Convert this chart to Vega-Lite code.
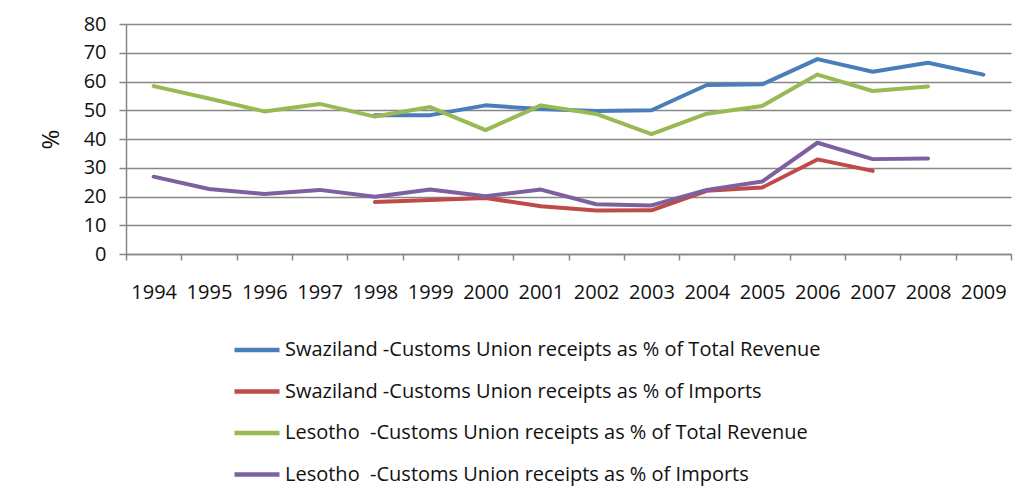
{
  "$schema": "https://vega.github.io/schema/vega-lite/v6.json",
  "width": 885,
  "height": 230,
  "autosize": {"type": "none"},
  "padding": {"left": 126, "top": 24, "right": 17, "bottom": 237},
  "background": "white",
  "config": {
    "font": "Open Sans",
    "view": {"stroke": null},
    "axis": {"labelColor": "#111111", "labelFontSize": 20, "domainColor": "#868686", "tickColor": "#868686", "gridColor": "#868686", "domainWidth": 1.5, "tickWidth": 1.5, "gridWidth": 1.5}
  },
  "data": {
    "values": [
      {"year": "1998", "series": "Swaziland -Customs Union receipts as % of Total Revenue", "value": 48.3},
      {"year": "1999", "series": "Swaziland -Customs Union receipts as % of Total Revenue", "value": 48.3},
      {"year": "2000", "series": "Swaziland -Customs Union receipts as % of Total Revenue", "value": 51.7},
      {"year": "2001", "series": "Swaziland -Customs Union receipts as % of Total Revenue", "value": 50.4},
      {"year": "2002", "series": "Swaziland -Customs Union receipts as % of Total Revenue", "value": 49.7},
      {"year": "2003", "series": "Swaziland -Customs Union receipts as % of Total Revenue", "value": 50.0},
      {"year": "2004", "series": "Swaziland -Customs Union receipts as % of Total Revenue", "value": 58.8},
      {"year": "2005", "series": "Swaziland -Customs Union receipts as % of Total Revenue", "value": 59.0},
      {"year": "2006", "series": "Swaziland -Customs Union receipts as % of Total Revenue", "value": 67.8},
      {"year": "2007", "series": "Swaziland -Customs Union receipts as % of Total Revenue", "value": 63.4},
      {"year": "2008", "series": "Swaziland -Customs Union receipts as % of Total Revenue", "value": 66.5},
      {"year": "2009", "series": "Swaziland -Customs Union receipts as % of Total Revenue", "value": 62.4},

      {"year": "1998", "series": "Swaziland -Customs Union receipts as % of Imports", "value": 18.1},
      {"year": "1999", "series": "Swaziland -Customs Union receipts as % of Imports", "value": 18.8},
      {"year": "2000", "series": "Swaziland -Customs Union receipts as % of Imports", "value": 19.5},
      {"year": "2001", "series": "Swaziland -Customs Union receipts as % of Imports", "value": 16.6},
      {"year": "2002", "series": "Swaziland -Customs Union receipts as % of Imports", "value": 15.1},
      {"year": "2003", "series": "Swaziland -Customs Union receipts as % of Imports", "value": 15.2},
      {"year": "2004", "series": "Swaziland -Customs Union receipts as % of Imports", "value": 22.0},
      {"year": "2005", "series": "Swaziland -Customs Union receipts as % of Imports", "value": 23.1},
      {"year": "2006", "series": "Swaziland -Customs Union receipts as % of Imports", "value": 32.9},
      {"year": "2007", "series": "Swaziland -Customs Union receipts as % of Imports", "value": 28.9},

      {"year": "1994", "series": "Lesotho \u00a0-Customs Union receipts as % of Total Revenue", "value": 58.4},
      {"year": "1995", "series": "Lesotho \u00a0-Customs Union receipts as % of Total Revenue", "value": 54.1},
      {"year": "1996", "series": "Lesotho \u00a0-Customs Union receipts as % of Total Revenue", "value": 49.6},
      {"year": "1997", "series": "Lesotho \u00a0-Customs Union receipts as % of Total Revenue", "value": 52.2},
      {"year": "1998", "series": "Lesotho \u00a0-Customs Union receipts as % of Total Revenue", "value": 47.8},
      {"year": "1999", "series": "Lesotho \u00a0-Customs Union receipts as % of Total Revenue", "value": 51.1},
      {"year": "2000", "series": "Lesotho \u00a0-Customs Union receipts as % of Total Revenue", "value": 43.1},
      {"year": "2001", "series": "Lesotho \u00a0-Customs Union receipts as % of Total Revenue", "value": 51.7},
      {"year": "2002", "series": "Lesotho \u00a0-Customs Union receipts as % of Total Revenue", "value": 48.7},
      {"year": "2003", "series": "Lesotho \u00a0-Customs Union receipts as % of Total Revenue", "value": 41.7},
      {"year": "2004", "series": "Lesotho \u00a0-Customs Union receipts as % of Total Revenue", "value": 48.8},
      {"year": "2005", "series": "Lesotho \u00a0-Customs Union receipts as % of Total Revenue", "value": 51.5},
      {"year": "2006", "series": "Lesotho \u00a0-Customs Union receipts as % of Total Revenue", "value": 62.4},
      {"year": "2007", "series": "Lesotho \u00a0-Customs Union receipts as % of Total Revenue", "value": 56.7},
      {"year": "2008", "series": "Lesotho \u00a0-Customs Union receipts as % of Total Revenue", "value": 58.3},

      {"year": "1994", "series": "Lesotho \u00a0-Customs Union receipts as % of Imports", "value": 26.9},
      {"year": "1995", "series": "Lesotho \u00a0-Customs Union receipts as % of Imports", "value": 22.6},
      {"year": "1996", "series": "Lesotho \u00a0-Customs Union receipts as % of Imports", "value": 20.9},
      {"year": "1997", "series": "Lesotho \u00a0-Customs Union receipts as % of Imports", "value": 22.3},
      {"year": "1998", "series": "Lesotho \u00a0-Customs Union receipts as % of Imports", "value": 19.9},
      {"year": "1999", "series": "Lesotho \u00a0-Customs Union receipts as % of Imports", "value": 22.4},
      {"year": "2000", "series": "Lesotho \u00a0-Customs Union receipts as % of Imports", "value": 20.1},
      {"year": "2001", "series": "Lesotho \u00a0-Customs Union receipts as % of Imports", "value": 22.4},
      {"year": "2002", "series": "Lesotho \u00a0-Customs Union receipts as % of Imports", "value": 17.3},
      {"year": "2003", "series": "Lesotho \u00a0-Customs Union receipts as % of Imports", "value": 16.9},
      {"year": "2004", "series": "Lesotho \u00a0-Customs Union receipts as % of Imports", "value": 22.3},
      {"year": "2005", "series": "Lesotho \u00a0-Customs Union receipts as % of Imports", "value": 25.2},
      {"year": "2006", "series": "Lesotho \u00a0-Customs Union receipts as % of Imports", "value": 38.7},
      {"year": "2007", "series": "Lesotho \u00a0-Customs Union receipts as % of Imports", "value": 33.0},
      {"year": "2008", "series": "Lesotho \u00a0-Customs Union receipts as % of Imports", "value": 33.2}
    ]
  },
  "mark": {"type": "line", "strokeWidth": 4, "strokeCap": "round", "strokeJoin": "round"},
  "encoding": {
    "x": {
      "field": "year", "type": "ordinal",
      "scale": {"type": "band", "paddingInner": 0, "paddingOuter": 0, "domain": ["1994","1995","1996","1997","1998","1999","2000","2001","2002","2003","2004","2005","2006","2007","2008","2009"]},
      "axis": {"title": null, "labelAngle": 0, "tickBand": "extent", "tickSize": 6, "labelPadding": 22, "grid": false, "labelOverlap": false}
    },
    "y": {
      "field": "value", "type": "quantitative",
      "scale": {"domain": [0, 80], "nice": false},
      "axis": {"title": "%", "titleFontSize": 24, "titleFontWeight": "normal", "titleColor": "#111111", "titlePadding": 20, "values": [0,10,20,30,40,50,60,70,80], "tickSize": 7, "labelPadding": 13, "grid": true, "labelOverlap": false}
    },
    "color": {
      "field": "series", "type": "nominal",
      "scale": {
        "domain": ["Swaziland -Customs Union receipts as % of Total Revenue", "Swaziland -Customs Union receipts as % of Imports", "Lesotho \u00a0-Customs Union receipts as % of Total Revenue", "Lesotho \u00a0-Customs Union receipts as % of Imports"],
        "range": ["#4A7EBB", "#BE4B48", "#98B954", "#7D60A0"]
      },
      "legend": {
        "title": null, "orient": "none", "legendX": 106, "legendY": 301,
        "symbolType": "stroke", "symbolSize": 2025, "symbolStrokeWidth": 4.5,
        "labelFontSize": 20, "labelColor": "#111111", "labelOffset": 3, "rowPadding": 6.5, "labelLimit": 700
      }
    }
  }
}
